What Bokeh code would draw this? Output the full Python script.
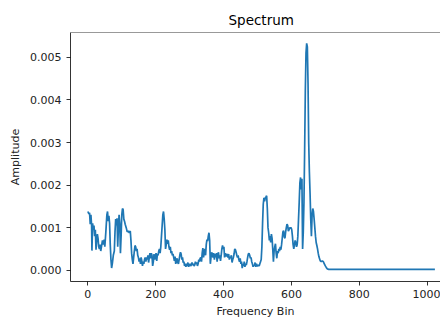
from bokeh.plotting import figure
from bokeh.models import Range1d, FixedTicker, PrintfTickFormatter, Span
from bokeh.embed import file_html
from bokeh.resources import INLINE

# Frequency bins and amplitudes (amplitude given in units of 1e-3)
bins = [0, 3, 5, 7, 9, 11, 12, 14, 16, 18, 20, 22, 24, 26, 28, 30, 32, 34, 36, 38,
        40, 43, 46, 48, 50, 53, 56, 58, 60, 62, 64, 66, 68, 70, 72, 75, 78, 80, 82, 84,
        86, 88, 90, 92, 94, 96, 98, 100, 102, 104, 106, 108, 110, 113, 116, 119, 122, 125, 127, 129,
        131, 133, 135, 137, 139, 141, 143, 145, 147, 149, 151, 153, 155, 157, 159, 161, 163, 165, 167, 169,
        171, 173, 175, 177, 179, 181, 183, 185, 187, 189, 191, 193, 195, 197, 199, 201, 203, 205, 207, 209,
        211, 213, 215, 217, 219, 221, 223, 225, 227, 229, 231, 233, 235, 237, 239, 241, 243, 245, 247, 249,
        251, 253, 255, 257, 259, 261, 263, 265, 267, 269, 271, 273, 275, 277, 279, 281, 283, 285, 287, 289,
        291, 293, 295, 297, 299, 301, 303, 305, 307, 309, 311, 313, 315, 317, 319, 321, 323, 325, 327, 329,
        331, 333, 335, 337, 339, 341, 343, 345, 347, 349, 351, 353, 355, 357, 359, 361, 363, 365, 367, 369,
        371, 373, 375, 377, 379, 381, 383, 385, 387, 389, 391, 393, 395, 397, 399, 401, 403, 405, 407, 409,
        411, 413, 415, 417, 419, 421, 423, 425, 427, 429, 431, 433, 435, 437, 439, 441, 443, 445, 447, 449,
        451, 453, 455, 457, 459, 461, 463, 465, 467, 469, 471, 473, 475, 477, 479, 481, 483, 485, 487, 489,
        491, 493, 495, 497, 499, 501, 503, 505, 507, 509, 511, 513, 515, 517, 519, 521, 523, 525, 527, 529,
        531, 533, 535, 537, 539, 541, 543, 545, 547, 549, 551, 553, 555, 557, 559, 561, 563, 565, 567, 569,
        571, 573, 575, 577, 579, 581, 583, 585, 587, 589, 591, 593, 595, 597, 599, 601, 603, 605, 607, 609,
        611, 613, 615, 617, 619, 621, 623, 625, 627, 629, 631, 633, 635, 637, 639, 641, 643, 645, 647, 649,
        651, 653, 655, 657, 659, 661, 663, 665, 667, 669, 671, 673, 675, 677, 679, 681, 683, 685, 688, 691,
        694, 697, 700, 703, 706, 710, 1023]

amp_milli = [1.38, 1.32, 1.35, 1.08, 1.30, 1.05, 0.46, 1.10, 0.95, 1.05, 0.80, 0.95, 0.48, 0.70, 0.85, 0.75, 0.55, 0.50, 0.60, 0.45,
             0.55, 0.70, 0.60, 0.72, 0.55, 0.90, 1.30, 1.38, 1.15, 1.28, 1.10, 0.60, 0.25, 0.05, 0.15, 0.35, 0.45, 0.90, 1.20, 1.05,
             1.22, 0.55, 1.00, 1.30, 1.10, 0.40, 0.80, 1.30, 1.45, 1.42, 1.20, 1.15, 1.08, 1.00, 0.90, 0.92, 0.88, 0.92, 0.70, 0.40,
             0.25, 0.15, 0.30, 0.45, 0.58, 0.55, 0.45, 0.50, 0.35, 0.30, 0.20, 0.28, 0.15, 0.30, 0.22, 0.10, 0.20, 0.15, 0.25, 0.30,
             0.20, 0.30, 0.25, 0.35, 0.18, 0.30, 0.40, 0.28, 0.40, 0.35, 0.10, 0.20, 0.38, 0.25, 0.30, 0.40, 0.22, 0.38, 0.35, 0.45,
             0.50, 0.40, 0.55, 0.80, 1.05, 1.30, 1.38, 1.20, 0.95, 0.50, 0.60, 0.72, 0.62, 0.70, 0.55, 0.48, 0.55, 0.40, 0.45, 0.35,
             0.38, 0.30, 0.22, 0.32, 0.15, 0.20, 0.28, 0.18, 0.15, 0.25, 0.35, 0.42, 0.38, 0.25, 0.30, 0.18, 0.20, 0.10, 0.15, 0.08,
             0.15, 0.10, 0.18, 0.08, 0.12, 0.15, 0.10, 0.12, 0.18, 0.12, 0.15, 0.10, 0.12, 0.20, 0.15, 0.18, 0.10, 0.15, 0.25, 0.20,
             0.28, 0.30, 0.20, 0.40, 0.52, 0.30, 0.45, 0.50, 0.35, 0.60, 0.72, 0.68, 0.80, 0.88, 0.70, 0.15, 0.30, 0.42, 0.35, 0.30,
             0.40, 0.25, 0.38, 0.30, 0.40, 0.20, 0.35, 0.42, 0.28, 0.35, 0.22, 0.35, 0.50, 0.58, 0.50, 0.55, 0.30, 0.40, 0.32, 0.38,
             0.35, 0.30, 0.38, 0.25, 0.32, 0.28, 0.35, 0.18, 0.25, 0.30, 0.38, 0.50, 0.48, 0.42, 0.35, 0.30, 0.35, 0.25, 0.20, 0.28,
             0.15, 0.20, 0.05, 0.15, 0.10, 0.20, 0.08, 0.15, 0.12, 0.20, 0.30, 0.38, 0.40, 0.35, 0.28, 0.30, 0.20, 0.15, 0.08, 0.12,
             0.10, 0.18, 0.08, 0.15, 0.10, 0.10, 0.12, 0.10, 0.15, 0.20, 0.25, 0.55, 1.10, 1.55, 1.70, 1.62, 1.70, 1.72, 1.75, 1.45,
             1.00, 0.88, 0.70, 0.80, 0.65, 0.85, 0.75, 0.50, 0.20, 0.45, 0.55, 0.62, 0.40, 0.28, 0.45, 0.40, 0.50, 0.45, 0.55, 0.48,
             0.60, 0.75, 0.90, 0.93, 0.78, 0.75, 0.90, 1.00, 1.08, 1.05, 0.92, 0.95, 1.00, 0.98, 1.00, 0.95, 0.80, 0.60, 0.50, 0.60,
             0.70, 0.65, 0.55, 0.60, 0.80, 1.20, 1.60, 2.05, 2.18, 1.90, 2.15, 0.50, 0.90, 1.60, 2.80, 4.20, 5.10, 5.33, 5.25, 4.40,
             3.00, 2.30, 1.80, 1.20, 0.80, 1.30, 1.45, 1.38, 1.20, 1.00, 0.80, 0.65, 0.58, 0.50, 0.40, 0.32, 0.27, 0.22, 0.20, 0.22,
             0.20, 0.15, 0.10, 0.06, 0.03, 0.02, 0.02]

amplitude = [a * 1e-3 for a in amp_milli]

x_ticks = [0, 200, 400, 600, 800, 1000]
y_ticks = [0.0, 0.001, 0.002, 0.003, 0.004, 0.005]

FONT = "DejaVu Sans"
Y_TOP = 0.005586

p = figure(width=440, height=320, output_backend="svg", toolbar_location=None,
           x_range=Range1d(-51.2, 1039.5), y_range=Range1d(-0.000266, Y_TOP),
           min_border_left=70, min_border_right=0, min_border_top=32, min_border_bottom=39,
           background_fill_color="white", border_fill_color="white")

p.line(bins, amplitude, line_color="#1f77b4", line_width=1.7)

p.title.text = "Spectrum"
p.title.text_font = FONT
p.title.text_font_size = "13.5px"
p.title.text_font_style = "normal"
p.title.text_color = "black"
p.title.align = "left"
p.title.offset = 158
p.title.standoff = 10

p.grid.visible = False
p.outline_line_color = None

p.xaxis.ticker = FixedTicker(ticks=x_ticks)
p.yaxis.ticker = FixedTicker(ticks=y_ticks)
p.yaxis.formatter = PrintfTickFormatter(format="%.3f")
p.xaxis.axis_label = "Frequency Bin"
p.yaxis.axis_label = "Amplitude"

for ax in (p.xaxis, p.yaxis):
    ax.axis_line_color = "black"
    ax.axis_line_width = 0.8
    ax.major_tick_line_color = "black"
    ax.major_tick_line_width = 0.8
    ax.major_tick_out = 4
    ax.major_tick_in = 0
    ax.minor_tick_line_color = None
    ax.major_label_text_font = FONT
    ax.major_label_text_font_size = "11px"
    ax.major_label_text_color = "#222222"
    ax.major_label_standoff = 5
    ax.axis_label_text_font = FONT
    ax.axis_label_text_font_size = "11px"
    ax.axis_label_text_font_style = "normal"
    ax.axis_label_text_color = "#222222"

p.xaxis.major_label_standoff = 4
p.xaxis.axis_label_standoff = 4
p.yaxis.axis_label_standoff = 5

top_spine = Span(location=Y_TOP, dimension="width", line_color="black", line_width=0.8)
p.add_layout(top_spine)

open("out.html", "w").write(file_html(p, INLINE))
